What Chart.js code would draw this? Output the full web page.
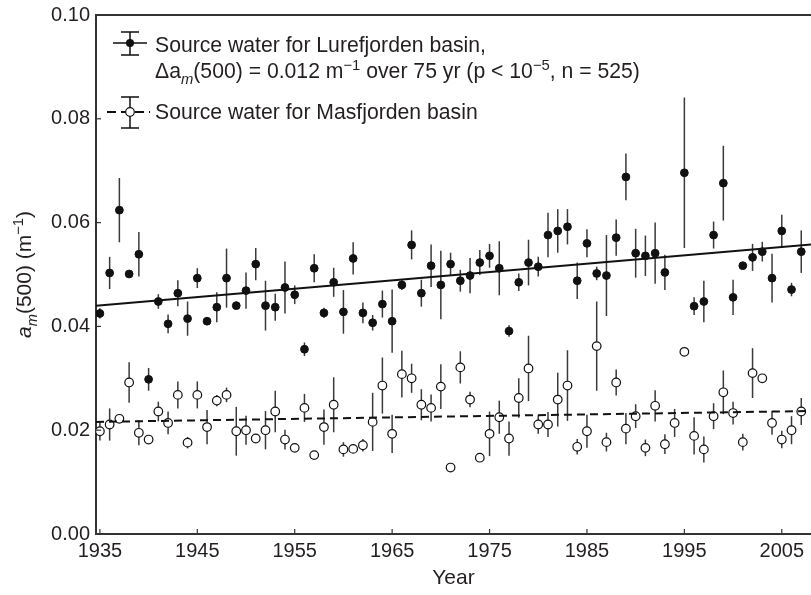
<!DOCTYPE html>
<html>
<head>
<meta charset="utf-8">
<script src="https://cdn.jsdelivr.net/npm/chart.js@4.4.0/dist/chart.umd.min.js"></script>
<style>
  body { margin: 0; background: #fff; overflow: hidden; }
  #box { width: 811px; height: 595px; }
</style>
</head>
<body>
<div id="box"><canvas id="myChart"></canvas></div>
<script>
// DADOS

const lureYears = [1935, 1936, 1937, 1938, 1939, 1940, 1941, 1942, 1943, 1944, 1945, 1946, 1947, 1948, 1949,
    1950, 1951, 1952, 1953, 1954, 1955, 1956, 1957, 1958, 1959, 1960, 1961, 1962, 1963, 1964, 1965,
    1966, 1967, 1968, 1969, 1970, 1971, 1972, 1973, 1974, 1975, 1976, 1977, 1978, 1979, 1980, 1981,
    1982, 1983, 1984, 1985, 1986, 1987, 1988, 1989, 1990, 1991, 1992, 1993, 1995, 1996, 1997, 1998,
    1999, 2000, 2001, 2002, 2003, 2004, 2005, 2006, 2007]
const lureValues = [0.0425, 0.0503, 0.0624, 0.0501, 0.0539, 0.0298, 0.0448, 0.0405, 0.0464, 0.0415, 0.0493, 0.0410, 0.0437, 0.0493, 0.0440,
    0.0469, 0.0520, 0.0440, 0.0437, 0.0475, 0.0461, 0.0356, 0.0512, 0.0426, 0.0485, 0.0428, 0.0531, 0.0426, 0.0407, 0.0443, 0.0410,
    0.0480, 0.0557, 0.0464, 0.0517, 0.0480, 0.0520, 0.0488, 0.0498, 0.0523, 0.0536, 0.0512, 0.0391, 0.0485, 0.0523, 0.0515, 0.0576,
    0.0584, 0.0592, 0.0488, 0.0560, 0.0502, 0.0498, 0.0571, 0.0688, 0.0541, 0.0536, 0.0541, 0.0504, 0.0696, 0.0439, 0.0448, 0.0576,
    0.0676, 0.0456, 0.0517, 0.0533, 0.0544, 0.0493, 0.0584, 0.0471, 0.0544]
const lureErrors = [0.0010, 0.0031, 0.0062, 0.0005, 0.0043, 0.0022, 0.0014, 0.0018, 0.0025, 0.0033, 0.0019, 0.0005, 0.0029, 0.0057, 0.0005,
    0.0035, 0.0031, 0.0048, 0.0026, 0.0050, 0.0018, 0.0013, 0.0027, 0.0010, 0.0028, 0.0042, 0.0031, 0.0020, 0.0015, 0.0026, 0.0061,
    0.0010, 0.0028, 0.0026, 0.0041, 0.0066, 0.0022, 0.0021, 0.0034, 0.0024, 0.0023, 0.0052, 0.0011, 0.0017, 0.0044, 0.0019, 0.0043,
    0.0042, 0.0034, 0.0035, 0.0027, 0.0013, 0.0078, 0.0035, 0.0045, 0.0047, 0.0039, 0.0059, 0.0034, 0.0145, 0.0017, 0.0040, 0.0026,
    0.0072, 0.0034, 0.0005, 0.0026, 0.0019, 0.0047, 0.0031, 0.0013, 0.0041]

const masYears = [1935, 1936, 1937, 1938, 1939, 1940, 1941, 1942, 1943, 1944, 1945, 1946, 1947, 1948, 1949,
    1950, 1951, 1952, 1953, 1954, 1955, 1956, 1957, 1958, 1959, 1960, 1961, 1962, 1963, 1964, 1965,
    1966, 1967, 1968, 1969, 1970, 1971, 1972, 1973, 1974, 1975, 1976, 1977, 1978, 1979, 1980, 1981,
    1982, 1983, 1984, 1985, 1986, 1987, 1988, 1989, 1990, 1991, 1992, 1993, 1994, 1995, 1996, 1997,
    1998, 1999, 2000, 2001, 2002, 2003, 2004, 2005, 2006, 2007]
const masValues = [0.0198, 0.0211, 0.0222, 0.0292, 0.0195, 0.0182, 0.0236, 0.0214, 0.0268, 0.0176, 0.0268, 0.0206, 0.0257, 0.0268, 0.0198,
    0.0200, 0.0184, 0.0200, 0.0236, 0.0182, 0.0166, 0.0243, 0.0152, 0.0206, 0.0249, 0.0163, 0.0164, 0.0171, 0.0216, 0.0286, 0.0193,
    0.0308, 0.0300, 0.0249, 0.0243, 0.0284, 0.0128, 0.0321, 0.0259, 0.0147, 0.0193, 0.0225, 0.0184, 0.0262, 0.0319, 0.0211, 0.0211,
    0.0259, 0.0286, 0.0168, 0.0198, 0.0362, 0.0177, 0.0292, 0.0203, 0.0227, 0.0166, 0.0247, 0.0173, 0.0214, 0.0351, 0.0189, 0.0163,
    0.0227, 0.0273, 0.0233, 0.0177, 0.0310, 0.0300, 0.0214, 0.0182, 0.0200, 0.0236]
const masErrors = [0.0018, 0.0031, 0.0005, 0.0039, 0.0024, 0, 0.0019, 0.0022, 0.0026, 0.0011, 0.0026, 0.0033, 0.0011, 0.0014, 0.0047,
    0.0028, 0, 0.0037, 0.0040, 0.0019, 0, 0.0027, 0, 0.0034, 0.0053, 0.0014, 0, 0.0012, 0.0056, 0.0054, 0.0037,
    0.0045, 0.0028, 0.0030, 0.0026, 0.0043, 0, 0.0031, 0.0015, 0, 0.0043, 0.0032, 0.0033, 0.0038, 0.0063, 0.0018, 0.0024,
    0.0052, 0.0068, 0.0015, 0.0032, 0.0086, 0.0018, 0.0025, 0.0030, 0.0023, 0.0016, 0.0030, 0.0019, 0.0027, 0, 0.0036, 0.0025,
    0.0025, 0.0042, 0.0022, 0.0016, 0.0048, 0, 0.0023, 0.0017, 0.0027, 0.0026]

// linhas de tendencia (inicio e fim do eixo)
const trendYears = [1934.6, 2008]
const lureTrend = [0.0440, 0.0558]
const masTrend = [0.0216, 0.0237]

const xTicks = [1935, 1945, 1955, 1965, 1975, 1985, 1995, 2005]
const yTicks = [0.00, 0.02, 0.04, 0.06, 0.08, 0.10]

const toPoints = (xs, ys) => xs.map((x, i) => ({ x: x, y: ys[i] }))

const fontFamily = '"Liberation Sans", Arial, Helvetica, sans-serif'
const ink = '#231f20'

// ABA DOS PLUGINS

const errorBars = {
    id: 'errorBars',
    beforeDatasetsDraw: (chart) => {
        const { ctx, scales: { x, y } } = chart
        ctx.save()
        ctx.strokeStyle = '#3a3a3a'
        ctx.lineWidth = 1.5
        chart.data.datasets.forEach(ds => {
            if (!ds.errors) return
            ds.data.forEach((p, i) => {
                const e = ds.errors[i]
                if (!e) return
                const px = x.getPixelForValue(p.x)
                ctx.beginPath()
                ctx.moveTo(px, y.getPixelForValue(p.y - e))
                ctx.lineTo(px, y.getPixelForValue(p.y + e))
                ctx.stroke()
            })
        })
        ctx.restore()
    }
}

// texto com subscrito / sobrescrito
const drawRich = (ctx, parts, x, y, size) => {
    parts.forEach(p => {
        const small = p.sub || p.sup
        const s = small ? size * 0.7 : size
        ctx.font = (p.it ? 'italic ' : '') + s + 'px ' + fontFamily
        let dy = 0
        if (p.sub) dy = size * 0.3
        if (p.sup) dy = -size * 0.4
        ctx.fillText(p.t, x, y + dy)
        x += ctx.measureText(p.t).width
    })
    return x
}

const richWidth = (ctx, parts, size) => {
    let w = 0
    parts.forEach(p => {
        const s = (p.sub || p.sup) ? size * 0.7 : size
        ctx.font = (p.it ? 'italic ' : '') + s + 'px ' + fontFamily
        w += ctx.measureText(p.t).width
    })
    return w
}

const frame = {
    id: 'frame',
    afterDraw: (chart) => {
        const { ctx, chartArea: area, scales: { x, y } } = chart
        ctx.save()
        ctx.strokeStyle = '#333'
        ctx.lineWidth = 2
        // linha de cima
        ctx.beginPath()
        ctx.moveTo(area.left, area.top)
        ctx.lineTo(area.right, area.top)
        ctx.stroke()

        // ticks para dentro
        ctx.lineWidth = 1.2
        xTicks.forEach(v => {
            const px = x.getPixelForValue(v)
            ctx.beginPath()
            ctx.moveTo(px, area.bottom)
            ctx.lineTo(px, area.bottom - 5)
            ctx.stroke()
        })
        yTicks.forEach(v => {
            const py = y.getPixelForValue(v)
            ctx.beginPath()
            ctx.moveTo(area.left, py)
            ctx.lineTo(area.left + 5, py)
            ctx.stroke()
        })

        // legenda
        ctx.strokeStyle = '#111'
        ctx.fillStyle = '#111'
        ctx.lineWidth = 1.5
        ctx.beginPath()
        ctx.moveTo(113, 43); ctx.lineTo(147, 43)
        ctx.moveTo(130, 32); ctx.lineTo(130, 55)
        ctx.moveTo(121, 32); ctx.lineTo(139, 32)
        ctx.moveTo(121, 55); ctx.lineTo(139, 55)
        ctx.stroke()
        ctx.beginPath()
        ctx.arc(130, 43, 4, 0, Math.PI * 2)
        ctx.fill()

        ctx.beginPath()
        ctx.moveTo(130, 97); ctx.lineTo(130, 128)
        ctx.moveTo(121, 97); ctx.lineTo(139, 97)
        ctx.moveTo(121, 128); ctx.lineTo(139, 128)
        ctx.stroke()
        ctx.setLineDash([9, 5])
        ctx.lineWidth = 1.8
        ctx.beginPath()
        ctx.moveTo(107, 112); ctx.lineTo(150, 112)
        ctx.stroke()
        ctx.setLineDash([])
        ctx.lineWidth = 1.2
        ctx.fillStyle = '#fff'
        ctx.beginPath()
        ctx.arc(130, 112, 4.3, 0, Math.PI * 2)
        ctx.fill()
        ctx.stroke()

        ctx.fillStyle = ink
        ctx.textBaseline = 'alphabetic'
        ctx.textAlign = 'left'
        drawRich(ctx, [{ t: 'Source water for Lurefjorden basin,' }], 155, 52, 21.2)
        drawRich(ctx, [
            { t: '\u0394a' }, { t: 'm', it: true, sub: true }, { t: '(500) = 0.012 m' },
            { t: '\u22121', sup: true }, { t: ' over 75 yr (p < 10' }, { t: '\u22125', sup: true },
            { t: ', n = 525)' }
        ], 155, 78, 21.2)
        drawRich(ctx, [{ t: 'Source water for Masfjorden basin' }], 155, 119, 21.2)

        // titulo do eixo y
        const yTitle = [
            { t: 'a', it: true }, { t: 'm', it: true, sub: true }, { t: '(500) (m' },
            { t: '\u22121', sup: true }, { t: ')' }
        ]
        const w = richWidth(ctx, yTitle, 21)
        ctx.translate(31, (area.top + area.bottom) / 2)
        ctx.rotate(-Math.PI / 2)
        drawRich(ctx, yTitle, -w / 2, 0, 21)
        ctx.restore()
    }
}

// ABA DO GRAFICO

const data = {
    datasets: [{
        label: 'Source water for Lurefjorden basin',
        data: toPoints(lureYears, lureValues),
        errors: lureErrors,
        backgroundColor: '#111',
        borderColor: '#111',
        pointRadius: 3.9,
        order: 2
    },
    {
        label: 'Source water for Masfjorden basin',
        data: toPoints(masYears, masValues),
        errors: masErrors,
        backgroundColor: '#fff',
        borderColor: '#111',
        borderWidth: 1.2,
        pointRadius: 4.3,
        order: 2
    },
    {
        label: 'Lurefjorden trend',
        data: toPoints(trendYears, lureTrend),
        showLine: true,
        borderColor: '#111',
        borderWidth: 2,
        pointRadius: 0,
        order: 0
    },
    {
        label: 'Masfjorden trend',
        data: toPoints(trendYears, masTrend),
        showLine: true,
        borderColor: '#111',
        borderWidth: 2,
        borderDash: [8, 5],
        pointRadius: 0,
        order: 0
    }]
}

const config = {
    type: 'scatter',
    data: data,
    plugins: [errorBars, frame],
    options: {
        responsive: true,
        maintainAspectRatio: false,
        animation: false,
        layout: { autoPadding: false, padding: { top: 15, right: 0, left: 0, bottom: 0 } },
        plugins: {
            legend: { display: false },
            tooltip: { enabled: false }
        },
        scales: {
            x: {
                type: 'linear',
                min: 1934.6,
                max: 2008,
                afterFit: (scale) => {
                    scale.height = 61
                    scale.paddingLeft = 0
                    scale.paddingRight = 0
                },
                afterBuildTicks: (scale) => { scale.ticks = xTicks.map(v => ({ value: v })) },
                grid: { drawOnChartArea: false, drawTicks: false },
                border: { display: true, color: '#333', width: 2 },
                ticks: {
                    color: ink,
                    padding: 5,
                    maxRotation: 0,
                    font: { family: fontFamily, size: 20 },
                    callback: (value) => String(value)
                },
                title: {
                    display: true,
                    text: 'Year',
                    color: ink,
                    font: { family: fontFamily, size: 21 },
                    padding: { top: 0, bottom: 4 }
                }
            },
            y: {
                min: 0,
                max: 0.1,
                afterFit: (scale) => {
                    scale.width = 96
                    scale.paddingTop = 0
                    scale.paddingBottom = 0
                },
                afterBuildTicks: (scale) => { scale.ticks = yTicks.map(v => ({ value: v })) },
                grid: { drawOnChartArea: false, drawTicks: false },
                border: { display: true, color: '#333', width: 2 },
                ticks: {
                    color: ink,
                    padding: 6,
                    font: { family: fontFamily, size: 20 },
                    callback: (value) => value.toFixed(2)
                }
            }
        }
    }
}

const ctx = document.querySelector('#myChart').getContext('2d')
const myChart = new Chart(ctx, config)
</script>
</body>
</html>
